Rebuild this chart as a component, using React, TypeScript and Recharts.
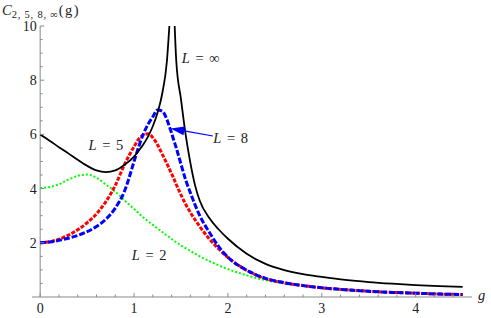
import { Line, LineChart, ReferenceDot, ReferenceLine, XAxis, YAxis } from 'recharts';

// coupling g and the curves C_L(g)
const G = [
  0, 0.1, 0.2, 0.3, 0.4, 0.5, 0.6, 0.7, 0.8, 0.9, 1.0,
  1.05, 1.1, 1.15, 1.2, 1.25, 1.3, 1.35,
  1.38, 1.4, 1.42, 1.45,
  1.5, 1.55, 1.6, 1.65, 1.7,
  1.8, 1.9, 2.0,
  2.2, 2.4, 2.6, 2.8, 3.0,
  3.25, 3.5, 3.75, 4.0, 4.25, 4.5,
];

const C_INF = [
  6.0, 5.77, 5.53, 5.3, 5.06, 4.84, 4.67, 4.61, 4.67, 4.88, 5.18,
  5.4, 5.64, 5.93, 6.3, 6.8, 7.5, 8.7,
  10.2, null, 11.2, 8.7,
  7.3, 5.98, 4.95, 4.12, 3.55,
  2.92, 2.5, 2.15,
  1.6, 1.22, 0.99, 0.84, 0.74,
  0.63, 0.55, 0.49, 0.44, 0.4, 0.37,
];

const C_8 = [
  2.0, 2.03, 2.09, 2.17, 2.27, 2.41, 2.6, 2.87, 3.28, 3.92, 5.0,
  5.55, 6.02, 6.38, 6.65, 6.9, 6.86, 6.55,
  6.25, 6.05, 5.82, 5.5,
  4.9, 4.32, 3.85, 3.4, 3.0,
  2.4, 1.87, 1.47,
  0.99, 0.69, 0.53, 0.42, 0.34,
  0.27, 0.21, 0.17, 0.14, 0.11, 0.09,
];

const C_5 = [
  2.0, 2.04, 2.13, 2.28, 2.48, 2.74, 3.07, 3.52, 4.12, 4.9, 5.55,
  5.83, 5.98, 6.02, 5.88, 5.62, 5.27, 4.92,
  4.7, 4.55, 4.4, 4.15,
  3.77, 3.42, 3.12, 2.85, 2.6,
  2.15, 1.78, 1.46,
  0.98, 0.68, 0.52, 0.42, 0.34,
  0.27, 0.21, 0.17, 0.14, 0.11, 0.09,
];

const C_2 = [
  4.02, 4.06, 4.16, 4.33, 4.47, 4.52, 4.4, 4.15, 3.89, 3.56, 3.25,
  3.09, 2.93, 2.79, 2.66, 2.53, 2.4, 2.27,
  2.2, 2.14, 2.09, 2.02,
  1.9, 1.8, 1.7, 1.6, 1.5,
  1.33, 1.17, 1.03,
  0.8, 0.62, 0.5, 0.42, 0.34,
  0.27, 0.21, 0.17, 0.14, 0.11, 0.09,
];

const X_TICKS = [
  0, 0.2, 0.4, 0.6, 0.8, 1, 1.2, 1.4, 1.6, 1.8, 2, 2.2, 2.4, 2.6, 2.8, 3,
  3.2, 3.4, 3.6, 3.8, 4, 4.2, 4.4,
];
const Y_TICKS = [
  0.5, 1, 1.5, 2, 2.5, 3, 3.5, 4, 4.5, 5, 5.5, 6, 6.5, 7, 7.5, 8, 8.5, 9, 9.5, 10,
];
const X_LABELS = [0, 1, 2, 3, 4];
const Y_LABELS = [2, 4, 6, 8, 10];

const ANNOTATIONS = [
  { id: 'inf', value: '∞', g: 1.71, c: 8.82 },
  { id: 'five', value: '5', g: 0.7, c: 5.61 },
  { id: 'eight', value: '8', g: 2.03, c: 5.87 },
  { id: 'two', value: '2', g: 1.16, c: 1.55 },
];
const ARROW = [
  { x: 1.84, y: 5.94 },
  { x: 1.388, y: 6.22 },
];

const data = G.map((g, i) => ({ g, inf: C_INF[i], l8: C_8[i], l5: C_5[i], l2: C_2[i] }));

const W = 491;
const H = 318;
const MARGIN = { top: 26, right: 19, bottom: 0, left: 0 };
const Y_AXIS_W = 32;
const X_AXIS_H = 21;
const X_MIN = -0.087;
const X_MAX = 4.6;
const PLOT_W = W - MARGIN.left - MARGIN.right - Y_AXIS_W;
const Y_AXIS_SHIFT = ((0 - X_MIN) / (X_MAX - X_MIN)) * PLOT_W;

const FONT = '"Liberation Serif", "DejaVu Serif", serif';
const SERIF = { fontFamily: FONT };
const AXIS = '#8a8a8a';
const TEXT = '#222';

function XTick(props: any) {
  const { x, y, payload } = props;
  const major = X_LABELS.includes(payload.value);
  return (
    <g>
      <line x1={x} y1={y} x2={x} y2={y - (major ? 4 : 2.5)} stroke={AXIS} strokeWidth={1} />
      {major && (
        <text x={x} y={y + 16} textAnchor="middle" style={SERIF} fontSize={14} fill={TEXT}>
          {payload.value}
        </text>
      )}
    </g>
  );
}

function YTick(props: any) {
  const { x, y, payload } = props;
  const ax = x + Y_AXIS_SHIFT;
  const major = Y_LABELS.includes(payload.value);
  return (
    <g>
      <line x1={ax} y1={y} x2={ax + (major ? 4 : 2.5)} y2={y} stroke={AXIS} strokeWidth={1} />
      {major && (
        <text x={ax - 3.5} y={y} dy="0.35em" textAnchor="end" style={SERIF} fontSize={14} fill={TEXT}>
          {payload.value}
        </text>
      )}
    </g>
  );
}

function ArrowShape(props: any) {
  const { x1, y1, x2, y2 } = props;
  const dx = x2 - x1;
  const dy = y2 - y1;
  const len = Math.hypot(dx, dy) || 1;
  const ux = dx / len;
  const uy = dy / len;
  const hl = 14;
  const hw = 4.5;
  const bx = x2 - ux * hl;
  const by = y2 - uy * hl;
  return (
    <g>
      <line x1={x1} y1={y1} x2={bx} y2={by} stroke="#0000ff" strokeWidth={1.2} />
      <polygon
        points={`${x2},${y2} ${bx - uy * hw},${by + ux * hw} ${bx + uy * hw},${by - ux * hw}`}
        fill="#0000ff"
      />
    </g>
  );
}

function annotationLabel(value: string) {
  return (props: any) => {
    const vb = props.viewBox || {};
    return (
      <text
        x={vb.x + (vb.width || 0) / 2}
        y={vb.y + (vb.height || 0) / 2}
        dy="0.35em"
        textAnchor="middle"
        style={{ ...SERIF, wordSpacing: 2 }}
        fontSize={14.5}
        fill={TEXT}
      >
        <tspan fontStyle="italic">L</tspan>
        <tspan> = </tspan>
        <tspan>{value}</tspan>
      </text>
    );
  };
}

function YTitle(props: any) {
  const vb = props.viewBox || { y: 26 };
  return (
    <text x={2} y={vb.y - 11} style={SERIF} fontSize={14.5} fill={TEXT}>
      <tspan fontStyle="italic">C</tspan>
      <tspan fontSize={10.5} dy={3} letterSpacing={0.8}>2, 5, 8, ∞</tspan>
      <tspan dy={-3} letterSpacing={1.5}>(g)</tspan>
    </text>
  );
}

function XTitle(props: any) {
  const vb = props.viewBox || { x: 32, y: 297, width: 440 };
  return (
    <text x={vb.x + vb.width + 6} y={vb.y + 3} style={SERIF} fontSize={14.5} fontStyle="italic" fill={TEXT}>
      g
    </text>
  );
}

export default function App() {
  return (
    <div style={{ position: 'absolute', left: 0, top: 0, background: '#fff' }}>
      <LineChart width={W} height={H} data={data} margin={MARGIN}>
        <XAxis
          dataKey="g"
          type="number"
          domain={[X_MIN, X_MAX]}
          allowDataOverflow
          ticks={X_TICKS}
          interval={0}
          height={X_AXIS_H}
          tickSize={0}
          tickMargin={0}
          tickLine={false}
          axisLine={{ stroke: AXIS, strokeWidth: 1 }}
          tick={<XTick />}
          label={<XTitle />}
        />
        <YAxis
          type="number"
          domain={[0, 10]}
          allowDataOverflow
          ticks={Y_TICKS}
          interval={0}
          width={Y_AXIS_W}
          tickSize={0}
          tickMargin={0}
          tickLine={false}
          axisLine={false}
          tick={<YTick />}
          label={<YTitle />}
        />
        <ReferenceLine x={0} stroke={AXIS} strokeWidth={1} />
        <Line
          dataKey="l2"
          type="monotone"
          stroke="#00ff00"
          strokeWidth={2}
          strokeDasharray="2 2"
          dot={false}
          activeDot={false}
          isAnimationActive={false}
        />
        <Line
          dataKey="l5"
          type="monotone"
          stroke="#ff0000"
          strokeWidth={3}
          strokeDasharray="4 1.5"
          dot={false}
          activeDot={false}
          isAnimationActive={false}
        />
        <Line
          dataKey="l8"
          type="monotone"
          stroke="#0000ff"
          strokeWidth={3}
          strokeDasharray="6 2"
          dot={false}
          activeDot={false}
          isAnimationActive={false}
        />
        <Line
          dataKey="inf"
          type="monotone"
          stroke="#000"
          strokeWidth={1.8}
          dot={false}
          activeDot={false}
          connectNulls={false}
          isAnimationActive={false}
        />
        <ReferenceLine segment={ARROW} shape={<ArrowShape />} />
        {ANNOTATIONS.map((a) => (
          <ReferenceDot
            key={a.id}
            x={a.g}
            y={a.c}
            r={0}
            fill="none"
            stroke="none"
            label={annotationLabel(a.value)}
          />
        ))}
      </LineChart>
    </div>
  );
}
